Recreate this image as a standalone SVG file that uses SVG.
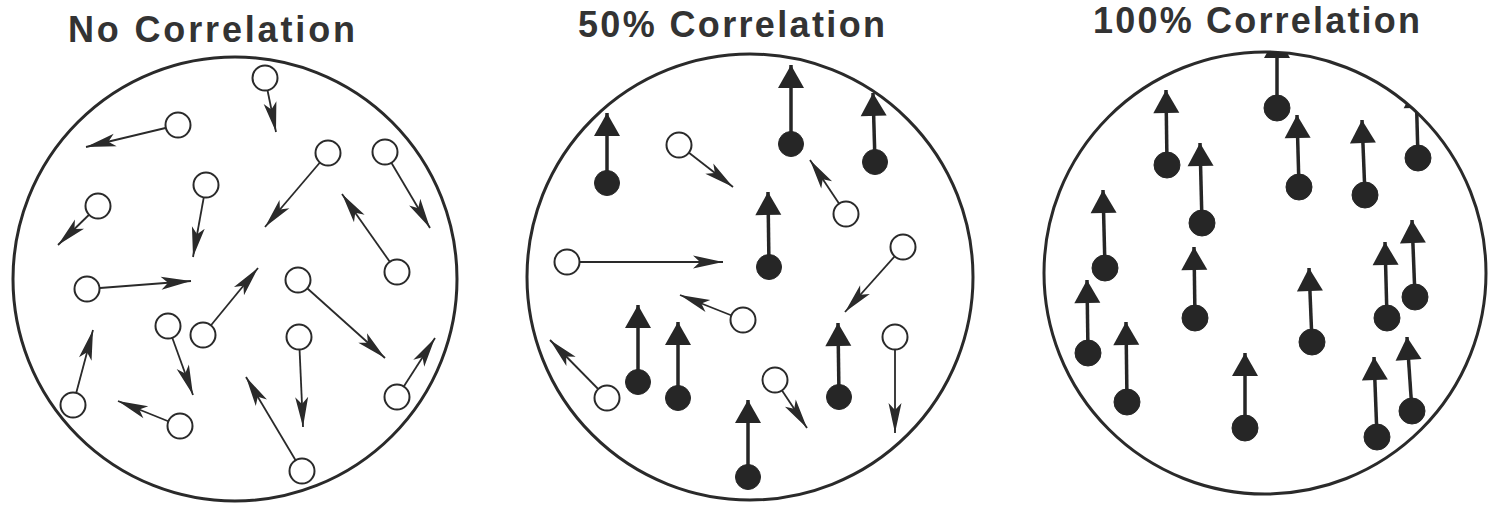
<svg xmlns="http://www.w3.org/2000/svg" width="1495" height="506" viewBox="0 0 1495 506">
<style>
.title{font-family:"Liberation Sans",Arial,sans-serif;font-weight:bold;font-size:36px;fill:#333}
.panel{fill:none;stroke:#2a2a2a;stroke-width:3}
.thin{stroke:#2a2a2a;stroke-width:1.8;fill:none;marker-end:url(#thinHead)}
.thick{stroke:#262626;stroke-width:3.5;fill:none;marker-end:url(#thickHead)}
.open{fill:#fff;stroke:#2a2a2a;stroke-width:2}
.solid{fill:#262626;stroke:#262626;stroke-width:1}
</style>
<defs>
<marker id="thinHead" markerUnits="userSpaceOnUse" markerWidth="36" markerHeight="18" viewBox="-34 -9 36 18" refX="0" refY="0" orient="auto">
<path d="M0,0 L-30,-6.5 L-23,0 L-30,6.5 Z" fill="#2a2a2a"/>
</marker>
<marker id="thickHead" markerUnits="userSpaceOnUse" markerWidth="26" markerHeight="30" viewBox="-24 -15 26 30" refX="0" refY="0" orient="auto">
<path d="M0,0 L-23,-13 L-23,13 Z" fill="#262626"/>
</marker>
<clipPath id="clip1"><circle cx="235" cy="279" r="222"/></clipPath>
<clipPath id="clip2"><circle cx="750" cy="277" r="223"/></clipPath>
<clipPath id="clip3"><circle cx="1265" cy="273" r="221"/></clipPath>
</defs>
<rect width="1495" height="506" fill="#fff"/>

<g id="titles">
<text class="title" x="68" y="42" textLength="287" lengthAdjust="spacing">No Correlation</text>
<text class="title" x="578" y="37" textLength="307" lengthAdjust="spacing">50% Correlation</text>
<text class="title" x="1093" y="33" textLength="327" lengthAdjust="spacing">100% Correlation</text>
</g>

<g id="panels">
<circle id="panel-none" class="panel" cx="235" cy="279" r="222"/>
<circle id="panel-50" class="panel" cx="750" cy="277" r="223"/>
<circle id="panel-100" class="panel" cx="1265" cy="273" r="221"/>
</g>

<g id="connectors">
<g clip-path="url(#clip1)">
<line class="thin" x1="265" y1="78" x2="276" y2="132"/>
<line class="thin" x1="178" y1="125" x2="86" y2="147"/>
<line class="thin" x1="98" y1="206" x2="58" y2="245"/>
<line class="thin" x1="206" y1="185" x2="193" y2="257"/>
<line class="thin" x1="328" y1="153" x2="265" y2="227"/>
<line class="thin" x1="385" y1="152" x2="430" y2="228"/>
<line class="thin" x1="397" y1="272" x2="342" y2="194"/>
<line class="thin" x1="87" y1="289" x2="191" y2="281"/>
<line class="thin" x1="298" y1="280" x2="385" y2="358"/>
<line class="thin" x1="168" y1="326" x2="193" y2="395"/>
<line class="thin" x1="203" y1="335" x2="258" y2="268"/>
<line class="thin" x1="299" y1="337" x2="303" y2="427"/>
<line class="thin" x1="73" y1="405" x2="93" y2="330"/>
<line class="thin" x1="180" y1="426" x2="118" y2="401"/>
<line class="thin" x1="302" y1="471" x2="246" y2="377"/>
<line class="thin" x1="397" y1="397" x2="435" y2="338"/>
</g>
<g clip-path="url(#clip2)">
<line class="thin" x1="679" y1="145" x2="733" y2="187"/>
<line class="thin" x1="846" y1="214" x2="810" y2="160"/>
<line class="thin" x1="567" y1="262" x2="723" y2="262"/>
<line class="thin" x1="903" y1="247" x2="845" y2="312"/>
<line class="thin" x1="743" y1="320" x2="680" y2="295"/>
<line class="thin" x1="607" y1="398" x2="550" y2="340"/>
<line class="thin" x1="775" y1="380" x2="807" y2="428"/>
<line class="thin" x1="895" y1="337" x2="895" y2="433"/>
<line class="thick" x1="607" y1="183" x2="607" y2="113"/>
<line class="thick" x1="791" y1="144" x2="791" y2="65"/>
<line class="thick" x1="875" y1="162" x2="873" y2="93"/>
<line class="thick" x1="769" y1="267" x2="768" y2="192"/>
<line class="thick" x1="638" y1="382" x2="638" y2="305"/>
<line class="thick" x1="678" y1="398" x2="678" y2="322"/>
<line class="thick" x1="839" y1="397" x2="838" y2="323"/>
<line class="thick" x1="748" y1="477" x2="748" y2="400"/>
</g>
<g clip-path="url(#clip3)">
<line class="thick" x1="1277" y1="108" x2="1277" y2="35"/>
<line class="thick" x1="1167" y1="165" x2="1166" y2="90"/>
<line class="thick" x1="1202" y1="223" x2="1200" y2="143"/>
<line class="thick" x1="1299" y1="187" x2="1297" y2="115"/>
<line class="thick" x1="1365" y1="195" x2="1362" y2="120"/>
<line class="thick" x1="1418" y1="158" x2="1416" y2="85"/>
<line class="thick" x1="1105" y1="268" x2="1103" y2="190"/>
<line class="thick" x1="1088" y1="353" x2="1087" y2="280"/>
<line class="thick" x1="1127" y1="402" x2="1126" y2="322"/>
<line class="thick" x1="1195" y1="318" x2="1194" y2="247"/>
<line class="thick" x1="1245" y1="428" x2="1245" y2="353"/>
<line class="thick" x1="1312" y1="342" x2="1309" y2="268"/>
<line class="thick" x1="1387" y1="318" x2="1385" y2="242"/>
<line class="thick" x1="1415" y1="297" x2="1412" y2="220"/>
<line class="thick" x1="1377" y1="437" x2="1374" y2="357"/>
<line class="thick" x1="1412" y1="411" x2="1407" y2="337"/>
</g>
</g>

<g id="p1-particles">
<g id="p1-n1"><circle class="open" cx="265" cy="78" r="12.5"/></g>
<g id="p1-n2"><circle class="open" cx="178" cy="125" r="12.5"/></g>
<g id="p1-n3"><circle class="open" cx="98" cy="206" r="12.5"/></g>
<g id="p1-n4"><circle class="open" cx="206" cy="185" r="12.5"/></g>
<g id="p1-n5"><circle class="open" cx="328" cy="153" r="12.5"/></g>
<g id="p1-n6"><circle class="open" cx="385" cy="152" r="12.5"/></g>
<g id="p1-n7"><circle class="open" cx="397" cy="272" r="12.5"/></g>
<g id="p1-n8"><circle class="open" cx="87" cy="289" r="12.5"/></g>
<g id="p1-n9"><circle class="open" cx="298" cy="280" r="12.5"/></g>
<g id="p1-n10"><circle class="open" cx="168" cy="326" r="12.5"/></g>
<g id="p1-n11"><circle class="open" cx="203" cy="335" r="12.5"/></g>
<g id="p1-n12"><circle class="open" cx="299" cy="337" r="12.5"/></g>
<g id="p1-n13"><circle class="open" cx="73" cy="405" r="12.5"/></g>
<g id="p1-n14"><circle class="open" cx="180" cy="426" r="12.5"/></g>
<g id="p1-n15"><circle class="open" cx="302" cy="471" r="12.5"/></g>
<g id="p1-n16"><circle class="open" cx="397" cy="397" r="12.5"/></g>
</g>

<g id="p2-particles">
<g id="p2-n1"><circle class="open" cx="679" cy="145" r="12.5"/></g>
<g id="p2-n2"><circle class="open" cx="846" cy="214" r="12.5"/></g>
<g id="p2-n3"><circle class="open" cx="567" cy="262" r="12.5"/></g>
<g id="p2-n4"><circle class="open" cx="903" cy="247" r="12.5"/></g>
<g id="p2-n5"><circle class="open" cx="743" cy="320" r="12.5"/></g>
<g id="p2-n6"><circle class="open" cx="607" cy="398" r="12.5"/></g>
<g id="p2-n7"><circle class="open" cx="775" cy="380" r="12.5"/></g>
<g id="p2-n8"><circle class="open" cx="895" cy="337" r="12.5"/></g>
<g id="p2-n9"><circle class="solid" cx="607" cy="183" r="12.5"/></g>
<g id="p2-n10"><circle class="solid" cx="791" cy="144" r="12.5"/></g>
<g id="p2-n11"><circle class="solid" cx="875" cy="162" r="12.5"/></g>
<g id="p2-n12"><circle class="solid" cx="769" cy="267" r="12.5"/></g>
<g id="p2-n13"><circle class="solid" cx="638" cy="382" r="12.5"/></g>
<g id="p2-n14"><circle class="solid" cx="678" cy="398" r="12.5"/></g>
<g id="p2-n15"><circle class="solid" cx="839" cy="397" r="12.5"/></g>
<g id="p2-n16"><circle class="solid" cx="748" cy="477" r="12.5"/></g>
</g>

<g id="p3-particles">
<g id="p3-n1"><circle class="solid" cx="1277" cy="108" r="13"/></g>
<g id="p3-n2"><circle class="solid" cx="1167" cy="165" r="13"/></g>
<g id="p3-n3"><circle class="solid" cx="1202" cy="223" r="13"/></g>
<g id="p3-n4"><circle class="solid" cx="1299" cy="187" r="13"/></g>
<g id="p3-n5"><circle class="solid" cx="1365" cy="195" r="13"/></g>
<g id="p3-n6"><circle class="solid" cx="1418" cy="158" r="13"/></g>
<g id="p3-n7"><circle class="solid" cx="1105" cy="268" r="13"/></g>
<g id="p3-n8"><circle class="solid" cx="1088" cy="353" r="13"/></g>
<g id="p3-n9"><circle class="solid" cx="1127" cy="402" r="13"/></g>
<g id="p3-n10"><circle class="solid" cx="1195" cy="318" r="13"/></g>
<g id="p3-n11"><circle class="solid" cx="1245" cy="428" r="13"/></g>
<g id="p3-n12"><circle class="solid" cx="1312" cy="342" r="13"/></g>
<g id="p3-n13"><circle class="solid" cx="1387" cy="318" r="13"/></g>
<g id="p3-n14"><circle class="solid" cx="1415" cy="297" r="13"/></g>
<g id="p3-n15"><circle class="solid" cx="1377" cy="437" r="13"/></g>
<g id="p3-n16"><circle class="solid" cx="1412" cy="411" r="13"/></g>
</g>
</svg>
